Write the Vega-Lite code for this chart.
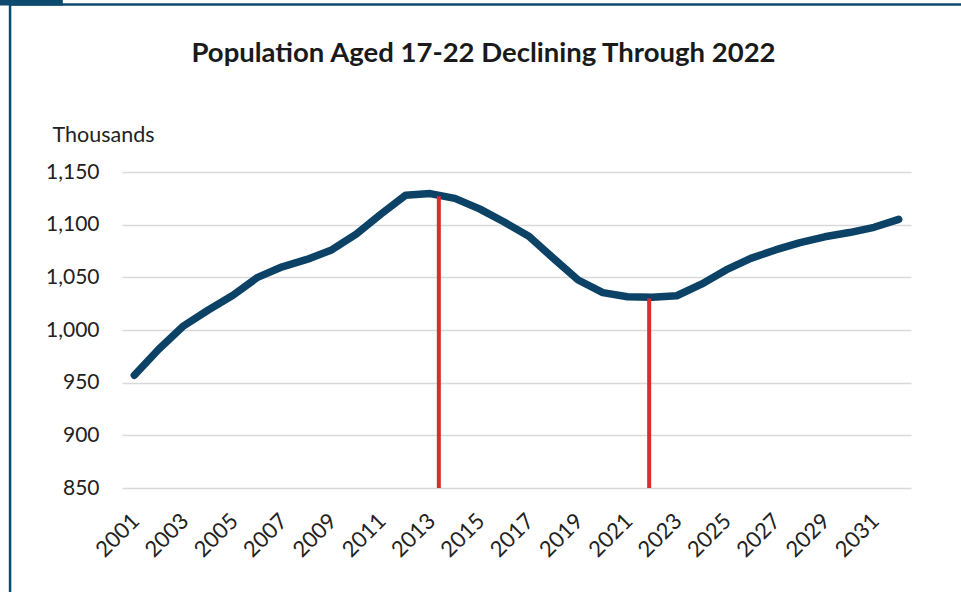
{
  "$schema": "https://vega.github.io/schema/vega-lite/v6.json",
  "width": 789,
  "height": 316,
  "autosize": {"type": "none"},
  "padding": {"left": 122, "top": 172, "right": 50, "bottom": 104},
  "background": "white",
  "title": {
    "text": "Population Aged 17-22 Declining Through 2022",
    "font": "Lato",
    "fontSize": 27.5,
    "fontWeight": "bold",
    "color": "#1a1a1a",
    "anchor": "middle",
    "dx": -33,
    "offset": 0,
    "dy": 68
  },
  "config": {
    "view": {"stroke": null},
    "font": "Lato"
  },
  "datasets": {
    "pop": [
      {"year": 2001, "value": 957},
      {"year": 2002, "value": 982},
      {"year": 2003, "value": 1004},
      {"year": 2004, "value": 1019},
      {"year": 2005, "value": 1033},
      {"year": 2006, "value": 1050},
      {"year": 2007, "value": 1060},
      {"year": 2008, "value": 1067},
      {"year": 2009, "value": 1076},
      {"year": 2010, "value": 1091},
      {"year": 2011, "value": 1110},
      {"year": 2012, "value": 1128},
      {"year": 2013, "value": 1129.5},
      {"year": 2014, "value": 1125},
      {"year": 2015, "value": 1115},
      {"year": 2016, "value": 1102.5},
      {"year": 2017, "value": 1089},
      {"year": 2018, "value": 1068},
      {"year": 2019, "value": 1047.5},
      {"year": 2020, "value": 1035.5},
      {"year": 2021, "value": 1031.5},
      {"year": 2022, "value": 1031},
      {"year": 2023, "value": 1032.5},
      {"year": 2024, "value": 1043.5},
      {"year": 2025, "value": 1057},
      {"year": 2026, "value": 1068},
      {"year": 2027, "value": 1076},
      {"year": 2028, "value": 1083},
      {"year": 2029, "value": 1088.5},
      {"year": 2030, "value": 1092.5},
      {"year": 2031, "value": 1097.5},
      {"year": 2032, "value": 1105}
    ],
    "markers": [
      {"year": 2013.35, "top": 1127, "bottom": 850},
      {"year": 2021.88, "top": 1030, "bottom": 850}
    ],
    "frame": [
      {"x1": 1995.96, "x2": 2034.6, "y1": 1309, "y2": 700}
    ],
    "tab": [
      {"x1": 1995.55, "x2": 1998.1, "y1": 1313.3, "y2": 1308}
    ]
  },
  "layer": [
    {
      "data": {"name": "pop"},
      "mark": {"type": "line", "color": "#0b4266", "strokeWidth": 7.5, "strokeCap": "round", "strokeJoin": "round"},
      "encoding": {
        "x": {
          "field": "year",
          "type": "quantitative",
          "scale": {"domain": [2000.5, 2032.5], "nice": false, "zero": false},
          "axis": {
            "title": null,
            "values": [2001, 2003, 2005, 2007, 2009, 2011, 2013, 2015, 2017, 2019, 2021, 2023, 2025, 2027, 2029, 2031],
            "format": "d",
            "grid": false,
            "ticks": false,
            "domain": false,
            "labelAngle": -45,
            "labelAlign": "right",
            "labelBaseline": "middle",
            "labelFont": "Lato",
            "labelFontSize": 22,
            "labelColor": "#222222",
            "labelPadding": 29,
            "labelOffset": 1,
            "labelOverlap": false,
            "labelFlush": false
          }
        },
        "y": {
          "field": "value",
          "type": "quantitative",
          "scale": {"domain": [850, 1150], "nice": false, "zero": false},
          "axis": {
            "title": "Thousands",
            "titleAngle": 0,
            "titleAlign": "left",
            "titleBaseline": "middle",
            "titleX": -70,
            "titleY": -37,
            "titleFont": "Lato",
            "titleFontSize": 21.5,
            "titleFontWeight": "normal",
            "titleColor": "#222222",
            "values": [850, 900, 950, 1000, 1050, 1100, 1150],
            "format": ",.0f",
            "grid": true,
            "gridColor": "#d9d9d9",
            "gridWidth": 1.5,
            "ticks": false,
            "domain": false,
            "labelFont": "Lato",
            "labelFontSize": 21,
            "labelColor": "#222222",
            "labelPadding": 23
          }
        }
      }
    },
    {
      "data": {"name": "markers"},
      "mark": {"type": "rule", "color": "#d62d2d", "strokeWidth": 4},
      "encoding": {
        "x": {"field": "year", "type": "quantitative"},
        "y": {"field": "top", "type": "quantitative"},
        "y2": {"field": "bottom"}
      }
    },
    {
      "data": {"name": "frame"},
      "mark": {"type": "rect", "fill": null, "stroke": "#0d4a6e", "strokeWidth": 2.5, "clip": false},
      "encoding": {
        "x": {"field": "x1", "type": "quantitative"},
        "x2": {"field": "x2"},
        "y": {"field": "y1", "type": "quantitative"},
        "y2": {"field": "y2"}
      }
    },
    {
      "data": {"name": "tab"},
      "mark": {"type": "rect", "fill": "#0d4a6e", "clip": false},
      "encoding": {
        "x": {"field": "x1", "type": "quantitative"},
        "x2": {"field": "x2"},
        "y": {"field": "y1", "type": "quantitative"},
        "y2": {"field": "y2"}
      }
    }
  ]
}
